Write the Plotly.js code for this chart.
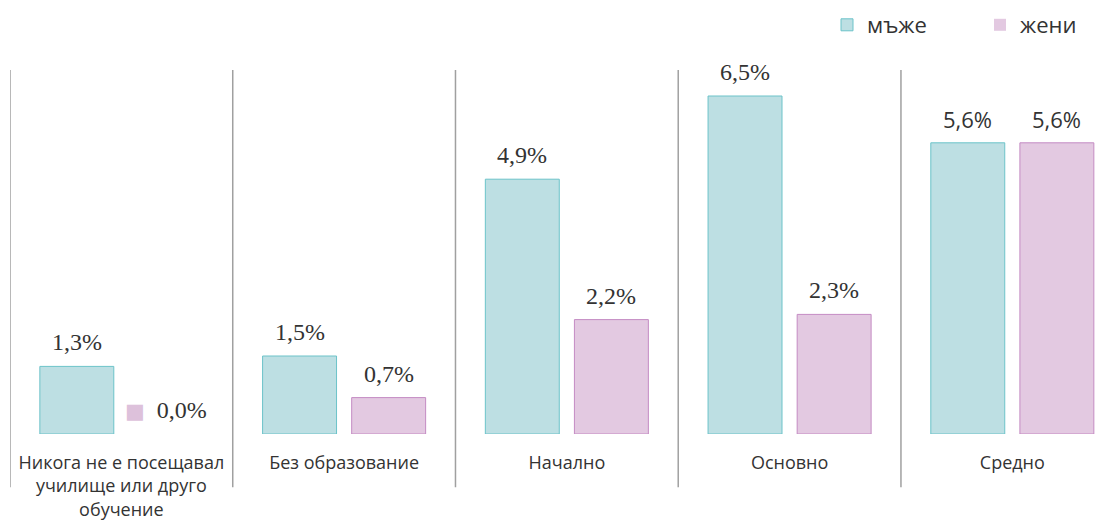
<!DOCTYPE html>
<html>
<head>
<meta charset="utf-8">
<script src="https://cdn.plot.ly/plotly-3.0.1.min.js"></script>
<style>html,body{margin:0;padding:0;background:#fff;}#chart{width:1111px;height:523px;}</style>
</head>
<body>
<div id="chart"></div>
<script>
const categories = ["Никога не е посещавал<br>училище или друго<br>обучение", "Без образование", "Начално", "Основно", "Средно"];
const men = [1.3, 1.5, 4.9, 6.5, 5.6];
const women = [0.0, 0.7, 2.2, 2.3, 5.6];
const seriesNames = ["мъже", "жени"];

const idx = categories.map((c, i) => i);
const fmt = v => v.toFixed(1).replace('.', ',') + '%';
const serif = "Liberation Serif, DejaVu Serif, serif";
const sans = "Open Sans, Noto Sans, sans-serif";
const last = categories.length - 1;

const traces = [
  {
    type: 'bar', name: seriesNames[0], x: idx, y: men,
    width: 0.332, offset: -0.366,
    marker: {color: '#BDDFE3', line: {color: '#6CC3C9', width: men.map(v => v === 0 ? 0 : 1)}},
    hoverinfo: 'skip'
  },
  {
    type: 'bar', name: seriesNames[1], x: idx, y: women,
    width: 0.332, offset: 0.034,
    marker: {color: '#E3C9E1', line: {color: '#C48BC3', width: women.map(v => v === 0 ? 0 : 1)}},
    hoverinfo: 'skip'
  }
];

const labelFont = i => i === last
  ? {family: sans, size: 22, color: '#333333'}
  : {family: serif, size: 24, color: '#333333'};

const annotations = [];
men.forEach((v, i) => annotations.push({
  xref: 'x', yref: 'y', x: i - 0.2, y: v, yshift: 24, yanchor: 'middle', xanchor: 'center',
  showarrow: false, text: fmt(v), font: labelFont(i)
}));
women.forEach((v, i) => annotations.push({
  xref: 'x', yref: 'y', x: i + 0.2, y: v, yshift: 24, yanchor: 'middle', xanchor: 'center',
  showarrow: false,
  text: v === 0
    ? '<span style="color:#DDC1DB;font-family:DejaVu Sans;font-size:21px">■</span>  ' + fmt(v)
    : fmt(v),
  font: labelFont(i)
}));

const seps = [-0.5, 0.5, 1.5, 2.5, 3.5].map(x => ({
  type: 'line', xref: 'x', yref: 'paper', x0: x, x1: x, y0: -0.146, y1: 1,
  line: {color: '#A0A0A0', width: 1.5}
}));

const layout = {
  width: 1111, height: 523,
  margin: {l: 10, r: 0, t: 70, b: 89},
  paper_bgcolor: '#ffffff', plot_bgcolor: '#ffffff',
  showlegend: true,
  legend: {orientation: 'h', xref: 'container', yref: 'container',
           x: 827 / 1111, xanchor: 'left', y: 1 - 25 / 523, yanchor: 'middle',
           font: {family: sans, size: 22, color: '#333333'}, itemwidth: 30,
           entrywidth: 108, entrywidthmode: 'pixels'},
  xaxis: {range: [-0.5, 4.443], tickmode: 'array', tickvals: idx, ticktext: categories,
          showgrid: false, zeroline: false, showline: false, ticks: '',
          ticklabelstandoff: 16,
          tickfont: {family: sans, size: 18, color: '#333333'}, fixedrange: true},
  yaxis: {range: [0, 7], visible: false, fixedrange: true},
  shapes: seps,
  annotations: annotations,
  bargap: 0, barmode: 'group'
};

Plotly.newPlot('chart', traces, layout, {displayModeBar: false, staticPlot: true});
</script>
</body>
</html>
